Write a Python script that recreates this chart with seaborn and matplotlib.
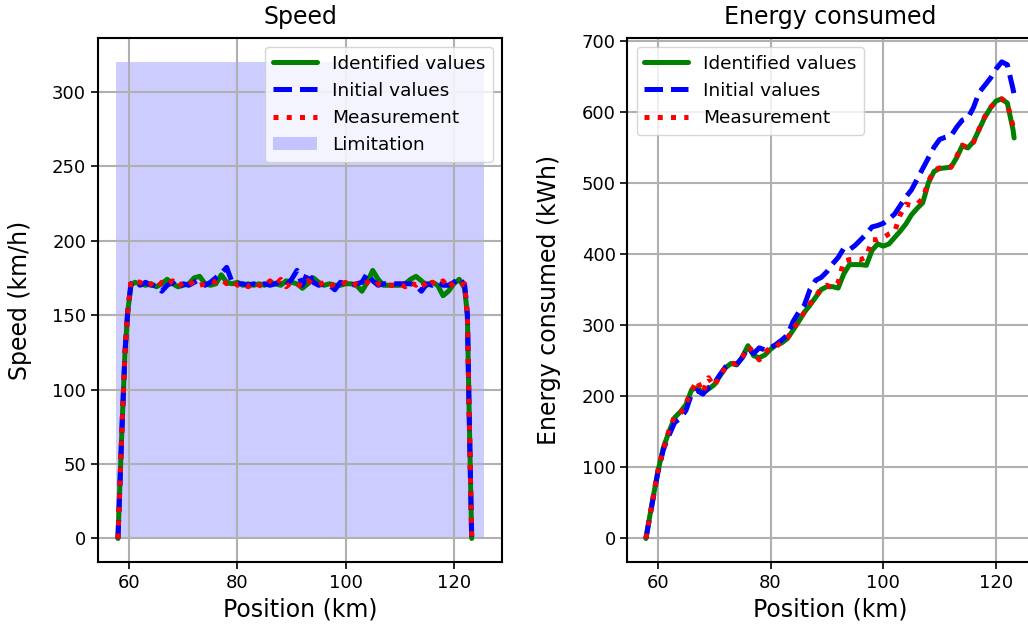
import matplotlib
matplotlib.use("Agg")
import matplotlib.pyplot as plt
import seaborn as sns

# Speed profile (km -> km/h)
speed_pos = [57.9, 58.6, 59.2, 59.7, 60.3] + list(range(61, 123)) + [122.5, 122.8, 123.1, 123.3]
speed_ident = [0, 70, 125, 152, 170,
               172, 171, 170, 171, 169, 171, 174, 171, 169, 170,
               171, 175, 176, 171, 170, 171, 177, 172, 171, 172,
               170, 171, 170, 171, 170, 172, 171, 170, 173, 172,
               171, 168, 171, 175, 172, 170, 171, 170, 170, 171,
               171, 170, 166, 172, 180, 174, 170, 170, 170, 170,
               171, 174, 176, 173, 170, 172, 170, 163, 166, 171,
               174, 168,
               150, 90, 35, 0]
speed_init = [0, 70, 125, 152, 171,
              173, 170, 172, 170, 170, 166, 170, 172, 168, 171,
              170, 172, 174, 170, 172, 175, 178, 182, 172, 171,
              171, 170, 171, 170, 171, 170, 171, 173, 170, 174,
              180, 170, 179, 172, 170, 171, 170, 167, 172, 171,
              170, 171, 172, 178, 173, 170, 171, 171, 171, 171,
              171, 171, 170, 166, 171, 170, 172, 170, 170, 172,
              175, 170,
              150, 90, 35, 0]
speed_meas = [0, 70, 125, 152, 173,
              173, 172, 169, 171, 168, 172, 170, 173, 169, 172,
              170, 173, 170, 171, 173, 172, 174, 171, 173, 170,
              171, 169, 172, 170, 169, 173, 170, 174, 169, 172,
              171, 169, 173, 171, 170, 172, 169, 171, 170, 172,
              169, 171, 170, 172, 169, 171, 170, 170, 170, 171,
              169, 172, 170, 173, 168, 172, 170, 173, 168, 172,
              170, 171,
              150, 90, 35, 0]
limit_pos = [57.6, 125.5]
limit_speed = [320, 320]

# Energy consumed (kWh)
energy_pos = [57.9] + list(range(59, 124)) + [123.2]
energy_ident = [0, 50, 93, 128, 150, 170, 178, 188, 209, 212, 205,
                210, 216, 228, 240, 246, 244, 255, 271, 257, 254,
                258, 266, 272, 275, 281, 293, 305, 318, 328, 339,
                350, 354, 354, 352, 372, 385, 385, 385, 384, 405,
                414, 411, 414, 423, 432, 442, 455, 464, 472, 500,
                516, 520, 521, 522, 535, 552, 549, 558, 575, 592,
                605, 615, 618, 612, 575, 563]
energy_init = [0, 48, 92, 125, 145, 163, 169, 180, 203, 208, 203,
               212, 218, 230, 241, 247, 245, 254, 268, 260, 268,
               265, 268, 273, 279, 286, 305, 318, 328, 350, 363,
               367, 375, 386, 395, 408, 406, 412, 420, 428, 438,
               440, 443, 449, 456, 468, 480, 490, 505, 520, 535,
               550, 561, 564, 566, 578, 588, 591, 606, 627, 637,
               647, 660, 670, 666, 632, 624]
energy_meas = [0, 50, 95, 126, 152, 172, 175, 190, 208, 222, 205,
               226, 214, 228, 240, 246, 246, 255, 270, 262, 251,
               262, 268, 270, 276, 282, 294, 306, 318, 330, 340,
               352, 356, 352, 360, 390, 392, 393, 392, 396, 420,
               420, 423, 428, 431, 455, 470, 468, 470, 478, 502,
               518, 521, 522, 522, 537, 553, 549, 557, 576, 593,
               606, 614, 618, 611, 580, 570]

sns.set_style("ticks")
plt.rcParams["font.family"] = ["DejaVu Sans"]
plt.rcParams["font.size"] = 13
plt.rcParams["text.color"] = "black"
plt.rcParams["axes.labelcolor"] = "black"
plt.rcParams["xtick.color"] = "black"
plt.rcParams["ytick.color"] = "black"

fig = plt.figure(figsize=(10.28, 6.39), dpi=100)
ax1 = fig.add_axes([0.0953, 0.1200, 0.393, 0.8205])
ax2 = fig.add_axes([0.6104, 0.1200, 0.394, 0.8205])

line_kw = dict(lw=3.6, estimator=None)

# Speed
sns.lineplot(x=speed_pos, y=speed_ident, ax=ax1, color="green", label="Identified values", **line_kw)
sns.lineplot(x=speed_pos, y=speed_init, ax=ax1, color="blue", linestyle="--", label="Initial values", **line_kw)
sns.lineplot(x=speed_pos, y=speed_meas, ax=ax1, color="red", linestyle=":", label="Measurement", **line_kw)
ax1.fill_between(limit_pos, 0, limit_speed, color="blue", alpha=0.2, lw=0, label="Limitation", zorder=0.3)
ax1.set_title("Speed", fontsize=17, pad=10)
ax1.set_xlabel("Position (km)", fontsize=17)
ax1.set_ylabel("Speed (km/h)", fontsize=17, labelpad=14)
ax1.set_yticks(range(0, 301, 50))
ax1.legend(loc="upper right", fontsize=13.3, framealpha=0.8, handlelength=2.4)

# Energy
sns.lineplot(x=energy_pos, y=energy_ident, ax=ax2, color="green", label="Identified values", **line_kw)
sns.lineplot(x=energy_pos, y=energy_init, ax=ax2, color="blue", linestyle="--", label="Initial values", **line_kw)
sns.lineplot(x=energy_pos, y=energy_meas, ax=ax2, color="red", linestyle=":", label="Measurement", **line_kw)
ax2.set_title("Energy consumed", fontsize=17, pad=10)
ax2.set_xlabel("Position (km)", fontsize=17)
ax2.set_ylabel("Energy consumed (kWh)", fontsize=17, labelpad=15)
ax2.set_yticks(range(0, 701, 100))
ax2.legend(loc="upper left", fontsize=13.3, framealpha=0.8, handlelength=2.4)

for ax in (ax1, ax2):
    ax.set_xticks([60, 80, 100, 120])
    ax.grid(True, color="#b0b0b0", lw=1.5, zorder=0.5)
    ax.set_axisbelow(True)
    ax.tick_params(labelsize=13, length=5, width=1.2, color="black")
    for sp in ax.spines.values():
        sp.set_color("black")
        sp.set_linewidth(1.5)

fig.savefig("out.png", dpi=100)
